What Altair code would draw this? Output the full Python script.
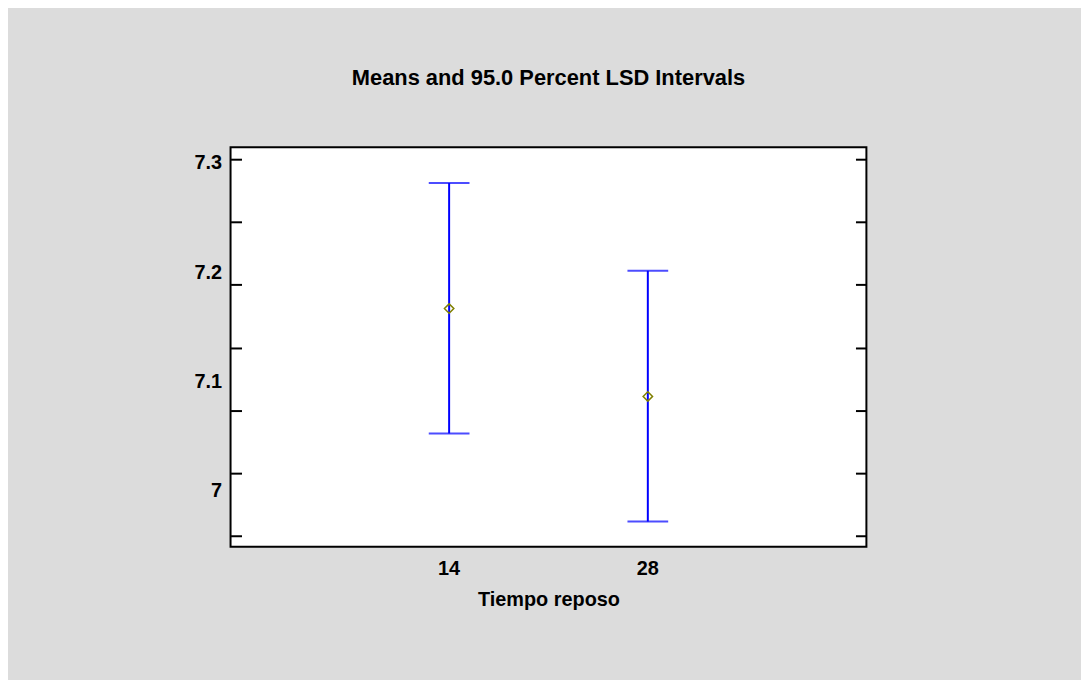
import altair as alt
import pandas as pd

# ---- data ----
tiempo = ["14", "28"]
medias = [7.181, 7.111]
inferior = [7.0815, 7.0113]
superior = [7.2810, 7.2111]

tick_values = [7.0, 7.05, 7.1, 7.15, 7.2, 7.25, 7.3]
label_values = [7.0, 7.1, 7.2, 7.3]

df = pd.DataFrame({
    "Tiempo reposo": tiempo,
    "media": medias,
    "inferior": inferior,
    "superior": superior,
})

FONT = "Liberation Sans"
W, H = 640, 402
dom_main = [6.9913, 7.3095]
dom_lab = [6.9488, 7.3143]

x_enc = alt.X(
    "Tiempo reposo:N",
    sort=tiempo,
    scale=alt.Scale(type="band", paddingInner=0.8, paddingOuter=1.0),
    axis=alt.Axis(
        title="Tiempo reposo", ticks=False, tickSize=0, domain=False, labelAngle=0,
        labelFont=FONT, labelFontSize=20, labelFontWeight="bold", labelColor="black",
        labelPadding=12, titleFont=FONT, titleFontSize=20, titleFontWeight="bold",
        titleColor="black", titlePadding=11, grid=False,
    ),
)

main_axis = alt.Axis(
    orient="right", offset=-W, values=tick_values, labels=False, domain=False,
    ticks=True, tickSize=11, tickWidth=2, tickColor="black", grid=False, title=None,
)
main_scale = alt.Scale(domain=dom_main, nice=False, zero=False)

base = alt.Chart(df)

rule = base.mark_rule(color="#0000FF", strokeWidth=2).encode(
    x=x_enc,
    y=alt.Y("inferior:Q", scale=main_scale, axis=main_axis),
    y2="superior:Q",
)
caps = base.transform_fold(["inferior", "superior"], as_=["lim", "valor"]).mark_tick(
    color="#0000FF", thickness=2, size=41, orient="horizontal"
).encode(
    x=x_enc,
    y=alt.Y("valor:Q", scale=main_scale, axis=main_axis),
)
points = base.mark_point(
    shape="diamond", filled=False, color="#808000", strokeWidth=1.5, size=90, opacity=1
).encode(
    x=x_enc,
    y=alt.Y("media:Q", scale=main_scale, axis=main_axis),
)
data_layer = alt.layer(rule, caps, points)

right_ticks = base.mark_point(opacity=0).encode(
    x=x_enc,
    y=alt.Y(
        "media:Q", scale=alt.Scale(domain=dom_main, nice=False, zero=False),
        axis=alt.Axis(
            orient="left", offset=-W, values=tick_values, labels=False, domain=False,
            ticks=True, tickSize=11, tickWidth=2, tickColor="black", grid=False, title=None,
        ),
    ),
)

labels_layer = base.mark_point(opacity=0).encode(
    x=x_enc,
    y=alt.Y(
        "media:Q", scale=alt.Scale(domain=dom_lab, nice=False, zero=False),
        axis=alt.Axis(
            orient="left", values=label_values, format="~g", ticks=False, tickSize=0,
            domain=False, grid=False, title=None, labelPadding=9,
            labelFont=FONT, labelFontSize=20, labelFontWeight="bold", labelColor="black",
            labelBaseline="middle",
        ),
    ),
)

chart = alt.layer(data_layer, right_ticks, labels_layer).resolve_scale(
    y="independent"
).resolve_axis(y="independent").properties(
    width=W,
    height=H,
    autosize=alt.AutoSizeParams(type="none"),
    padding={"left": 224, "top": 138, "right": 216, "bottom": 132},
    background="#DCDCDC",
    title=alt.TitleParams(
        "Means and 95.0 Percent LSD Intervals", font=FONT, fontSize=22,
        fontWeight="bold", color="black", anchor="middle", offset=58,
    ),
).configure_view(stroke="black", strokeWidth=2, fill="white")

chart.save("out.html", embed_options={"renderer": "svg", "actions": False})
